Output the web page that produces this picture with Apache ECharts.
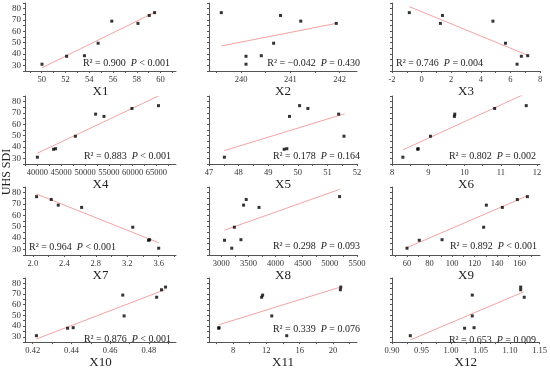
<!DOCTYPE html>
<html><head><meta charset="utf-8">
<script src="https://cdn.jsdelivr.net/npm/echarts@6/dist/echarts.min.js"></script>
<style>html,body{margin:0;padding:0;background:#fff}#c{width:550px;height:370px}</style>
</head><body><div id="c"></div>
<script>
// Common response (UHS SDI) for the 8 samples A..H
const Y = [31, 38, 38.5, 49.5, 69, 67, 74, 76.5];
// Predictor values per sample A..H
const X1 = [50.03, 52.1, 53.6, 54.75, 55.9, 58.1, 59.05, 59.5];
const X2 = [240.1, 240.1, 240.41, 240.66, 241.21, 241.93, 240.8, 239.6];
const X3 = [6.45, 6.74, 7.17, 5.67, 4.82, 1.27, 1.41, -0.83];
const X4 = [40000, 43390, 43810, 47980, 52220, 53980, 59850, 65420];
const X5 = [47.52, 49.54, 49.63, 51.56, 51.38, 49.72, 50.34, 50.06];
const X6 = [8.3, 8.71, 8.72, 9.06, 9.73, 9.72, 10.83, 11.7];
const X7 = [3.6, 3.47, 3.485, 3.27, 2.323, 2.62, 2.234, 2.047];
const X8 = [3194, 3061, 3363, 3242, 3412, 3696, 3460, 5179];
const X9 = [60, 70.9, 91.1, 128, 130.4, 144.6, 157.9, 166.8];
const X10 = [0.4219, 0.438, 0.4409, 0.4672, 0.4665, 0.484, 0.4865, 0.4886];
const X11 = [14.45, 6.27, 6.3, 12.65, 11.55, 11.43, 20.9, 20.95];
const X12 = [0.931, 1.023, 1.039, 1.036, 1.036, 1.124, 1.118, 1.118];
const XS = [X1, X2, X3, X4, X5, X6, X7, X8, X9, X10, X11, X12];
const xNames = ['X1','X2','X3','X4','X5','X6','X7','X8','X9','X10','X11','X12'];
// Fitted line endpoints [x0, y0, x1, y1]
const fits = [
  [50.03, 27.9, 59.55, 77],
  [239.6, 47.1, 241.93, 67],
  [-0.83, 81.8, 7.19, 38.8],
  [40000, 34.5, 65420, 85],
  [47.52, 36.8, 51.58, 69.3],
  [8.3, 37.4, 11.64, 86.5],
  [2.047, 78.8, 3.6, 35.8],
  [3061, 46.9, 5179, 82.9],
  [60, 31.5, 166.5, 77.1],
  [0.4219, 27.9, 0.4884, 74.1],
  [6.27, 41.2, 20.9, 76.5],
  [0.931, 27, 1.123, 72]
];
const r2 = ['0.900','\u22120.042','0.746','0.883','0.178','0.802','0.964','0.298','0.892','0.876','0.339','0.653'];
const pText = ['< 0.001','= 0.430','= 0.004','< 0.001','= 0.164','= 0.002','< 0.001','= 0.093','< 0.001','< 0.001','= 0.076','= 0.009'];
// Tick labels per panel
const xTicks = [
  [50,52,54,56,58,60],
  [240,241,242],
  [-2,0,2,4,6,8],
  [40000,45000,50000,55000,60000,65000],
  [47,48,49,50,51,52],
  [8,9,10,11,12],
  [2.0,2.4,2.8,3.2,3.6],
  [3000,3500,4000,4500,5000,5500],
  [60,80,100,120,140,160],
  [0.42,0.44,0.46,0.48],
  [8,12,16,20],
  [0.90,0.95,1.00,1.05,1.10,1.15]
];
const xDecimals = [0,0,0,0,0,0,1,0,0,2,0,2];
const xRanges = [
  [48.6,61.3],[239.35,242.35],[-2,8],[37400,69100],[47,52],[8,12.08],
  [1.9,3.82],[2775,5500],[46.7,178],[0.416,0.494],[5.1,22.9],[0.9,1.15]
];
const yTicks = [30,40,50,60,70,80];
const yRange = [25, 85];

// ---- layout ----
const colLeft = [25, 209, 392];
const colWidth = [151, 148, 148];
const rowTop = [3, 96, 187, 278];
const rowH = 68;
// annotation anchors: [align, x, y]
const annPos = [
  ['right',170,63],['right',360,63],['left',396,63],
  ['right',171,156],['right',360,156],['right',536,156],
  ['left',29,247],['right',360,246],['right',537,246],
  ['right',171,339],['right',360,329],['right',536,340]
];

const FONT = 'Liberation Serif';
const grids = [], xAxes = [], yAxes = [], series = [], graphics = [];
for (let i = 0; i < 12; i++) {
  const r = Math.floor(i / 3), c = i % 3;
  grids.push({left: colLeft[c], top: rowTop[r], width: colWidth[c], height: rowH});
  const ticks = xTicks[i];
  const step = ticks[1] - ticks[0];
  const tickVals = [];
  for (let k = -1; k <= ticks.length; k++) {
    const base = ticks[0] + k * step;
    [base, base + step / 2].forEach(v => {
      if (v >= xRanges[i][0] - 1e-9 && v <= xRanges[i][1] + 1e-9) tickVals.push(+v.toFixed(6));
    });
  }
  const dec = xDecimals[i];
  xAxes.push({
    type: 'value', gridIndex: i, min: xRanges[i][0], max: xRanges[i][1],
    name: xNames[i], nameLocation: 'middle', nameGap: 8,
    nameTextStyle: {fontFamily: FONT, fontSize: 13, color: '#222'},
    axisLine: {show: true, onZero: false, lineStyle: {color: '#555', width: 1}},
    axisTick: {show: true, length: 2, customValues: tickVals, lineStyle: {color: '#555'}},
    axisLabel: {show: true, customValues: ticks, margin: 4, fontFamily: FONT, fontSize: 8.5, color: '#333',
      formatter: v => (+v).toFixed(dec), hideOverlap: false},
    splitLine: {show: false}
  });
  yAxes.push({
    type: 'value', gridIndex: i, min: yRange[0], max: yRange[1], interval: 5,
    axisLine: {show: true, onZero: false, lineStyle: {color: '#555', width: 1}},
    axisTick: {show: true, length: 2, lineStyle: {color: '#555'}},
    axisLabel: {show: c === 0, margin: 4, fontFamily: FONT, fontSize: 9, color: '#333',
      formatter: v => yTicks.indexOf(v) >= 0 ? String(v) : ''},
    splitLine: {show: false}
  });
  const f = fits[i];
  series.push({
    type: 'line', xAxisIndex: i, yAxisIndex: i, data: [[f[0], f[1]], [f[2], f[3]]],
    showSymbol: false, silent: true, animation: false,
    lineStyle: {color: '#f4a3a3', width: 1}, z: 2
  });
  series.push({
    type: 'scatter', xAxisIndex: i, yAxisIndex: i,
    data: XS[i].map((x, k) => [x, Y[k]]),
    symbol: 'rect', symbolSize: 3, itemStyle: {color: '#000'}, animation: false, z: 3
  });
  const a = annPos[i];
  graphics.push({
    type: 'text', x: a[1], y: a[2], z: 10,
    style: {
      text: '{n|R\u00b2 = ' + r2[i] + '  }{it|P}{n| ' + pText[i] + '}',
      align: a[0], verticalAlign: 'middle',
      rich: {
        n: {fontFamily: FONT, fontSize: 10, fill: '#222'},
        it: {fontFamily: FONT, fontSize: 10, fontStyle: 'italic', fill: '#222'}
      }
    }
  });
}
graphics.push({
  type: 'text', x: 7, y: 172, rotation: Math.PI / 2,
  style: {text: 'UHS SDI', fontFamily: FONT, fontSize: 12, fill: '#222', align: 'center', verticalAlign: 'middle'}
});

const chart = echarts.init(document.getElementById('c'), null, {renderer: 'canvas'});
chart.setOption({
  animation: false, backgroundColor: '#fff',
  grid: grids, xAxis: xAxes, yAxis: yAxes, series: series, graphic: graphics
});
</script></body></html>
